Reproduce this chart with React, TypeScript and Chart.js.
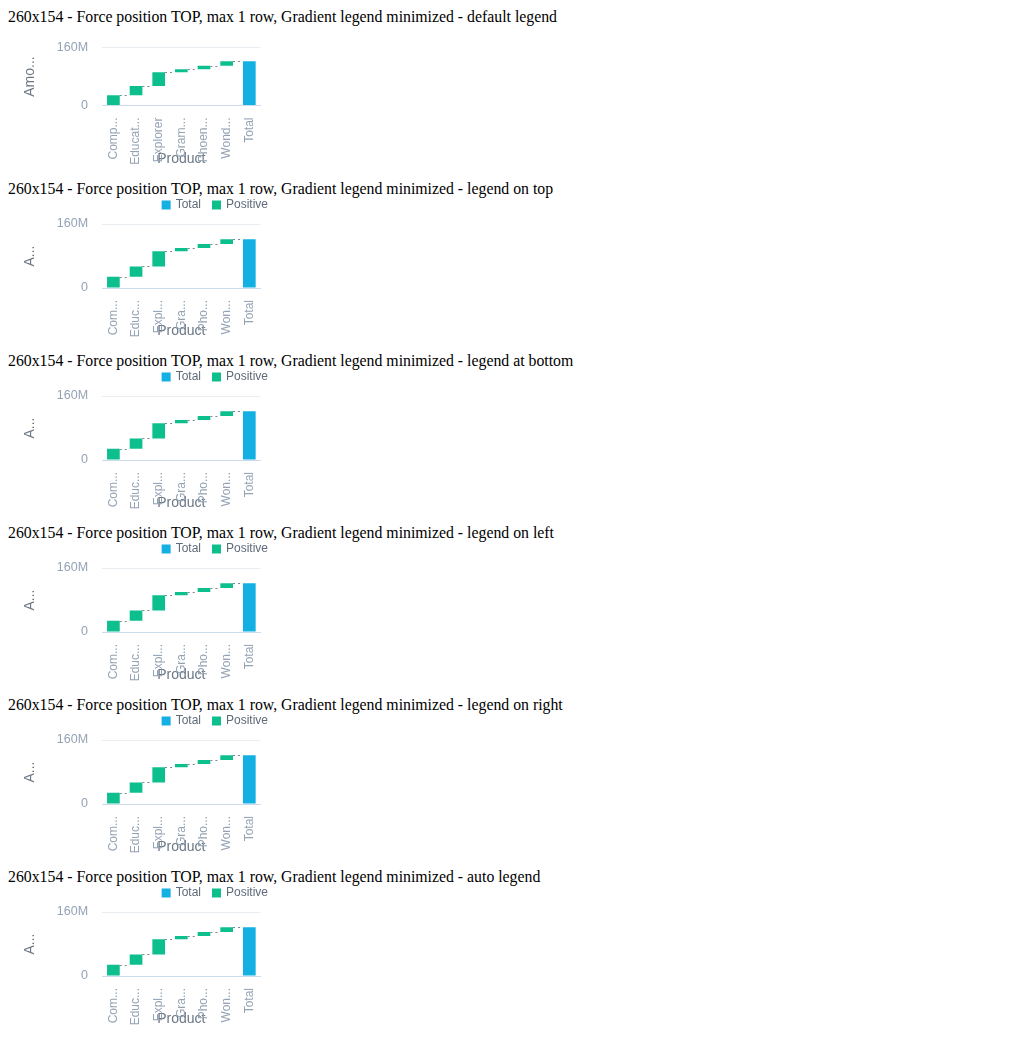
import React, { useEffect, useRef } from "react";
import { Chart, registerables } from "chart.js";
Chart.register(...registerables);

const categories = ["Comp", "Educat", "Explorer", "Gram", "Phoen", "Wond", "Total"];
const increments = [28e6, 26e6, 38e6, 8e6, 10e6, 12e6];
const labelsDefault = ["Comp...", "Educat...", "Explorer", "Gram...", "Phoen...", "Wond...", "Total"];
const labelsLegend = ["Com...", "Educ...", "Expl...", "Gra...", "Pho...", "Won...", "Total"];
const variants = ["default legend", "legend on top", "legend at bottom", "legend on left", "legend on right", "auto legend"];
const legendItems = ["Total", "Positive"];

const GREEN = "#0cbf8c";
const BLUE = "#14b0e4";
const FONT = "'Liberation Sans', Arial, sans-serif";

function buildData() {
  const ranges: [number, number][] = [];
  let acc = 0;
  for (const v of increments) { ranges.push([acc, acc + v]); acc += v; }
  ranges.push([0, acc]);
  return ranges;
}

const connectorPlugin = {
  id: "connectors",
  afterDatasetsDraw(chart: any) {
    const meta = chart.getDatasetMeta(0);
    const y = chart.scales.y;
    const data = chart.data.datasets[0].data as [number, number][];
    const ctx = chart.ctx;
    ctx.save();
    ctx.strokeStyle = "#7d8896";
    ctx.lineWidth = 1;
    ctx.setLineDash([2, 3]);
    for (let i = 0; i < data.length - 1; i++) {
      const a = meta.data[i], b = meta.data[i + 1];
      const yy = Math.round(y.getPixelForValue(data[i][1])) + 0.5;
      ctx.beginPath();
      ctx.moveTo(a.x + a.width / 2, yy);
      ctx.lineTo(b.x - b.width / 2, yy);
      ctx.stroke();
    }
    ctx.restore();
  },
};

const legendPlugin = {
  id: "customLegend",
  afterDraw(chart: any, _a: any, opts: any) {
    if (!opts.show) return;
    const ctx = chart.ctx;
    ctx.save();
    ctx.font = `12px ${FONT}`;
    ctx.textBaseline = "middle";
    const colors = [BLUE, GREEN];
    const widths = legendItems.map((t) => ctx.measureText(t).width);
    const box = 9, gap = 5, between = 11;
    let total = 0;
    widths.forEach((w, i) => { total += box + gap + w + (i ? between : 0); });
    let x = chart.width - total;
    const y = 7;
    legendItems.forEach((t, i) => {
      ctx.fillStyle = colors[i];
      ctx.fillRect(x, y - box / 2, box, box);
      ctx.fillStyle = "#5f6b7a";
      ctx.fillText(t, x + box + gap, y);
      x += box + gap + widths[i] + between;
    });
    ctx.restore();
  },
};

function Small({ idx }: { idx: number }) {
  const ref = useRef<HTMLCanvasElement>(null);
  useEffect(() => {
    const showLegend = idx > 0;
    const data = buildData();
    const chart = new Chart(ref.current!, {
      type: "bar",
      data: {
        labels: showLegend ? labelsLegend : labelsDefault,
        datasets: [{
          data: data as any,
          backgroundColor: data.map((_, i) => (i === data.length - 1 ? BLUE : GREEN)),
          barPercentage: 0.56,
          categoryPercentage: 1,
        }],
      },
      options: {
        animation: false,
        responsive: false,
        maintainAspectRatio: false,
        layout: { padding: { left: 10, right: 4, top: showLegend ? 26 : 5, bottom: 0 } },
        plugins: {
          tooltip: { enabled: false },
          legend: { display: false },
          customLegend: { show: showLegend },
        } as any,
        scales: {
          x: {
            grid: { display: false },
            border: { color: "#ccdcec" },
            ticks: { autoSkip: false, maxRotation: 90, minRotation: 90, padding: 4, color: "#94a3b4", font: { family: FONT, size: 12 } },
            title: { display: true, text: "Product", color: "#6b7785", font: { family: FONT, size: 14 }, padding: { top: 10, bottom: 12 } },
          },
          y: {
            min: 0, max: 160e6,
            grid: { color: "#e8edf2", drawTicks: false },
            border: { display: false },
            ticks: {
              stepSize: 160e6, padding: 14, color: "#94a3b4", font: { family: FONT, size: 12.5 },
              callback: (v: any) => (v === 0 ? "0" : v / 1e6 + "M"),
            },
            title: { display: true, text: showLegend ? "A..." : "Amo...", color: "#6b7785", font: { family: FONT, size: 14 } },
          },
        },
      },
      plugins: [connectorPlugin, legendPlugin],
    });
    return () => chart.destroy();
  }, [idx]);
  return (
    <div>
      <div style={{ fontFamily: "'Liberation Serif', serif", fontSize: 15.8, lineHeight: "18px" }}>
        260x154 - Force position TOP, max 1 row, Gradient legend minimized - {variants[idx]}
      </div>
      <canvas ref={ref} width={260} height={154} style={{ width: 260, height: 154, display: "block" }} />
    </div>
  );
}

export default function App() {
  return (
    <div>
      {variants.map((_, i) => <Small key={i} idx={i} />)}
    </div>
  );
}
